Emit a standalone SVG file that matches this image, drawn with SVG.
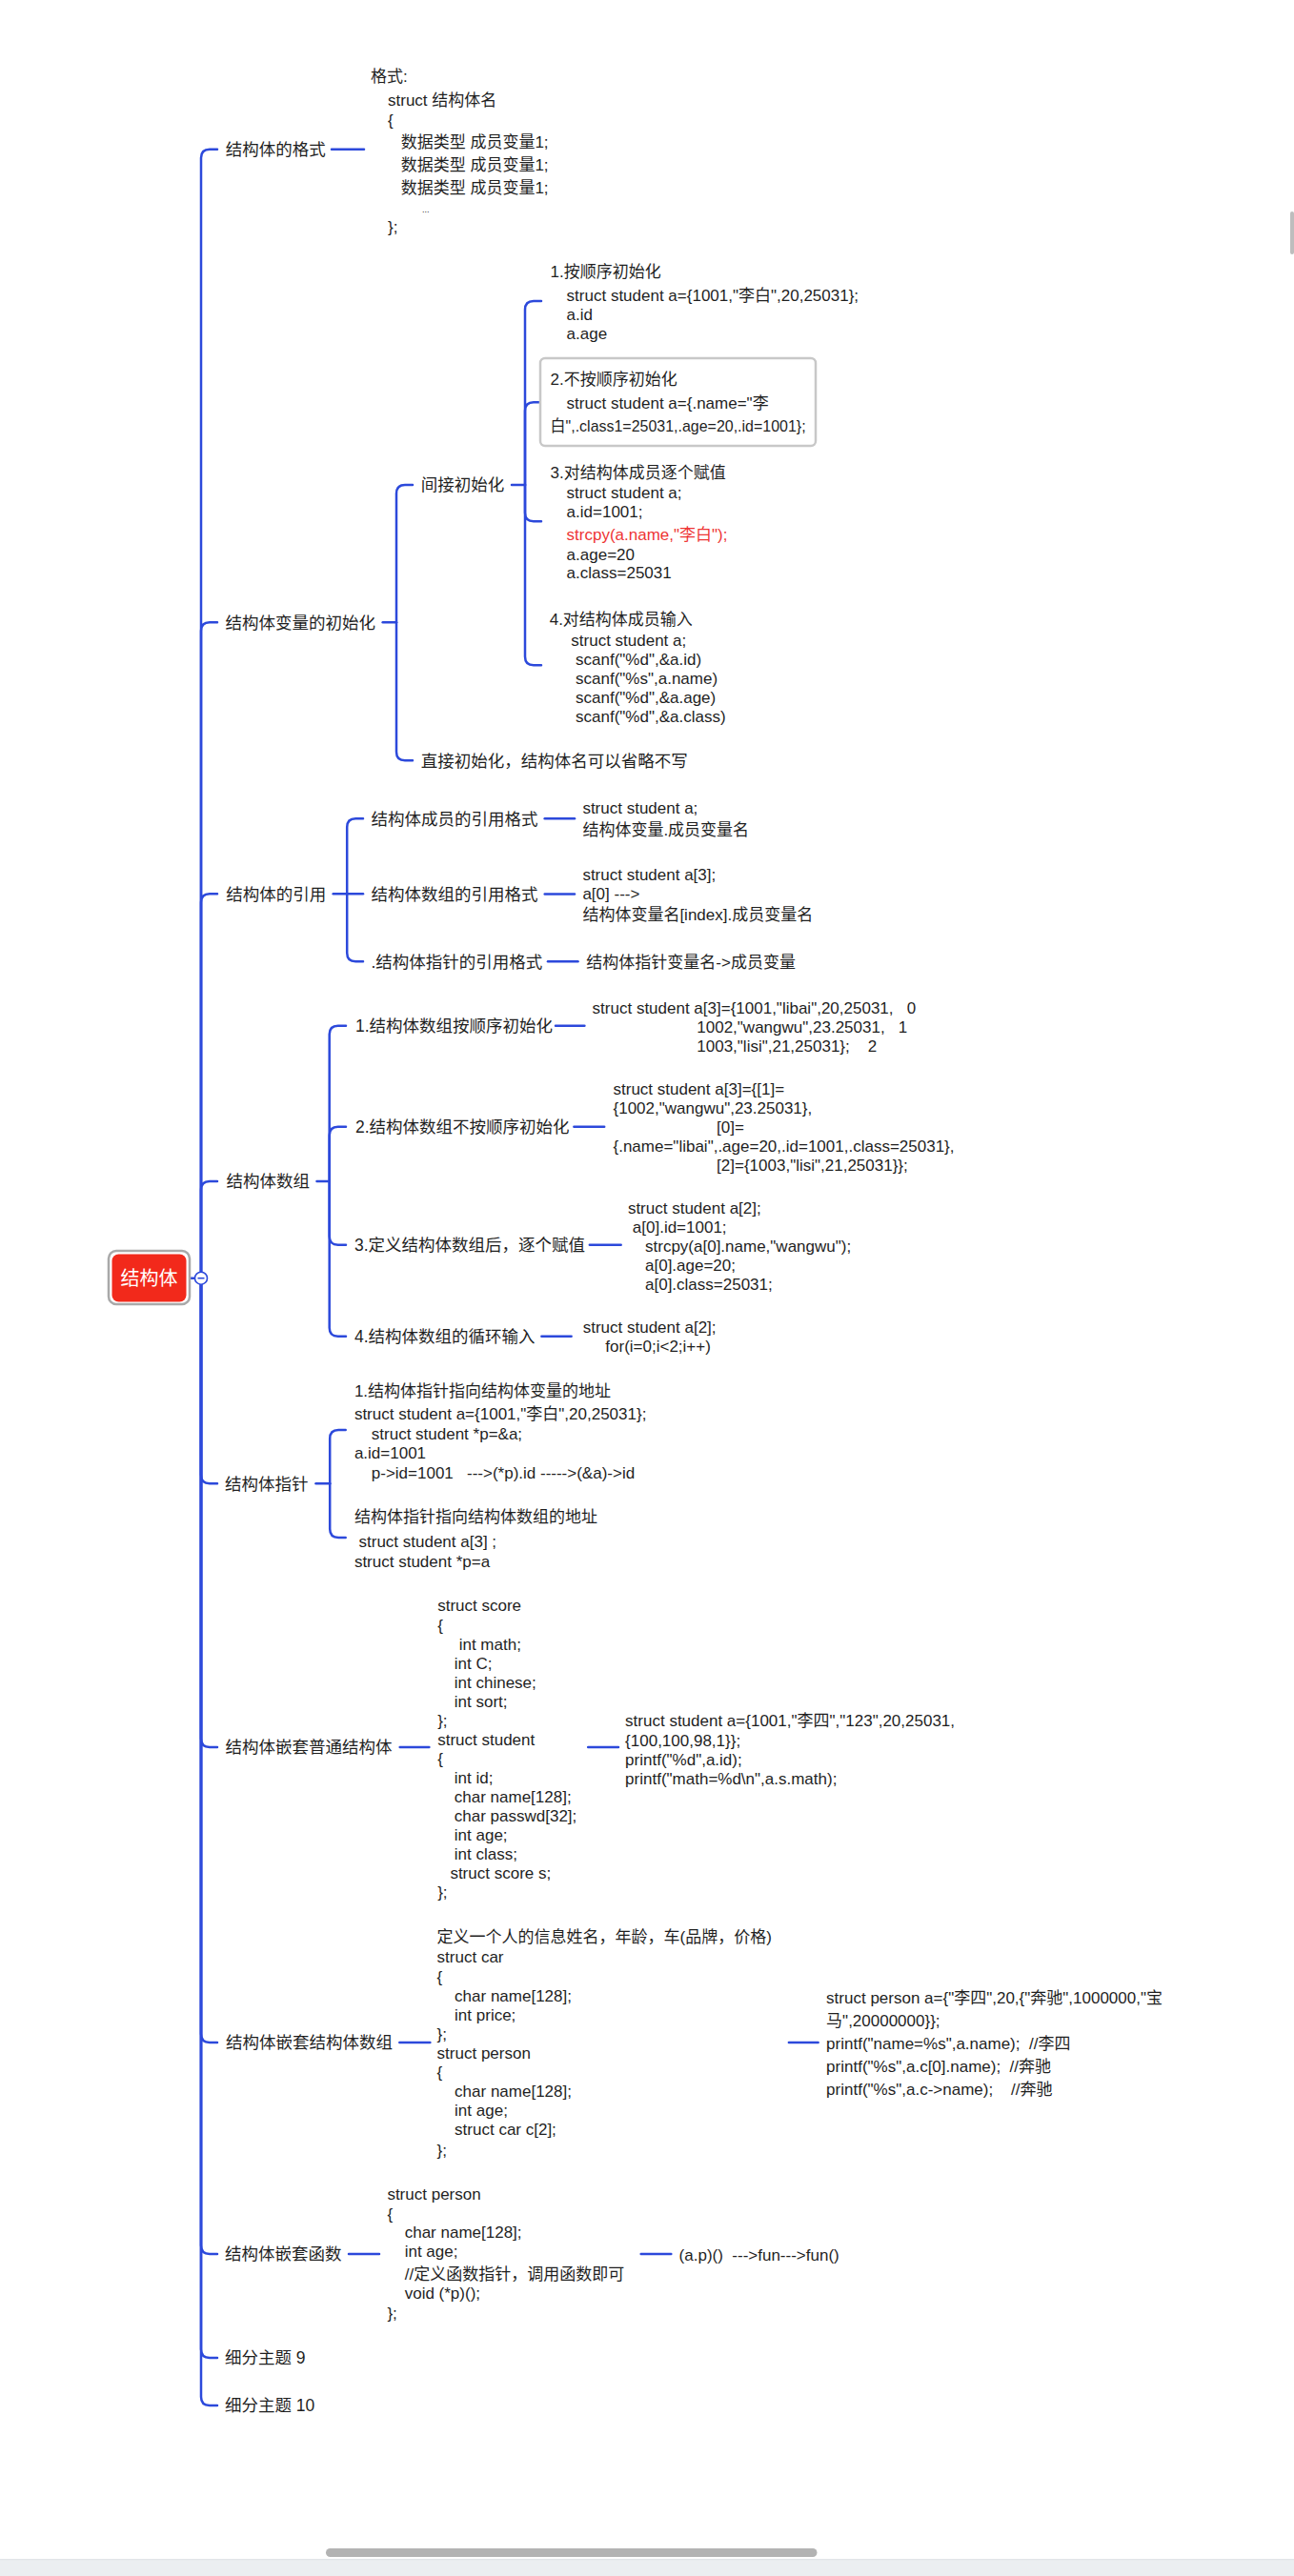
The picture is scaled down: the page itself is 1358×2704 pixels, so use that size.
<svg xmlns="http://www.w3.org/2000/svg" width="1358" height="2704" viewBox="0 0 1358 2704">
<style>
text{font-family:'Liberation Sans','Noto Sans CJK SC',sans-serif;font-size:17px;fill:#1f1f1f;white-space:pre}
.lb{font-size:17.5px}
.red{fill:#ee3535}
.ln{fill:none;stroke:#2c49db;stroke-width:2.5;stroke-linecap:round}
</style>
<rect x="0" y="0" width="1358" height="2704" fill="#ffffff"/>
<g id="connectors">
<path class="ln" d="M196,1341.7 H205"/>
<path class="ln" d="M211,1341.7 V165.7 Q211,156.7 220,156.7 H228"/>
<path class="ln" d="M211,1341.7 V662.3 Q211,653.3 220,653.3 H228"/>
<path class="ln" d="M211,1341.7 V947.3 Q211,938.3 220,938.3 H228"/>
<path class="ln" d="M211,1341.7 V1249 Q211,1240 220,1240 H228"/>
<path class="ln" d="M211,1341.7 V1548.3 Q211,1557.3 220,1557.3 H228"/>
<path class="ln" d="M211,1341.7 V1825 Q211,1834 220,1834 H228"/>
<path class="ln" d="M211,1341.7 V2135 Q211,2144 220,2144 H228"/>
<path class="ln" d="M211,1341.7 V2357 Q211,2366 220,2366 H228"/>
<path class="ln" d="M211,1341.7 V2466 Q211,2475 220,2475 H228"/>
<path class="ln" d="M211,1341.7 V2516 Q211,2525 220,2525 H228"/>
<path class="ln" d="M348,156.7 H382"/>
<path class="ln" d="M401.7,653.3 H416"/>
<path class="ln" d="M416,653.3 V518 Q416,509 425,509 H433"/>
<path class="ln" d="M416,653.3 V789.3 Q416,798.3 425,798.3 H433"/>
<path class="ln" d="M537,509 H551"/>
<path class="ln" d="M551,509 V325 Q551,316 560,316 H568"/>
<path class="ln" d="M551,509 V431.3 Q551,422.3 560,422.3 H568"/>
<path class="ln" d="M551,509 V538.3 Q551,547.3 560,547.3 H568"/>
<path class="ln" d="M551,509 V689.3 Q551,698.3 560,698.3 H568"/>
<path class="ln" d="M349.7,938.3 H381"/>
<path class="ln" d="M364.2,938.3 V868.3 Q364.2,859.3 373.2,859.3 H381"/>
<path class="ln" d="M364.2,938.3 V1000.3 Q364.2,1009.3 373.2,1009.3 H381"/>
<path class="ln" d="M571.7,859.3 H603"/>
<path class="ln" d="M571.7,938.5 H603"/>
<path class="ln" d="M575,1009.3 H606.5"/>
<path class="ln" d="M332.5,1240 H345.7"/>
<path class="ln" d="M345.7,1240 V1085.7 Q345.7,1076.7 354.7,1076.7 H363"/>
<path class="ln" d="M345.7,1240 V1191.7 Q345.7,1182.7 354.7,1182.7 H363"/>
<path class="ln" d="M345.7,1240 V1297.7 Q345.7,1306.7 354.7,1306.7 H363"/>
<path class="ln" d="M345.7,1240 V1393.7 Q345.7,1402.7 354.7,1402.7 H363"/>
<path class="ln" d="M583,1076.7 H613.4"/>
<path class="ln" d="M602.4,1182.7 H634.2"/>
<path class="ln" d="M618.8,1306.7 H651.7"/>
<path class="ln" d="M568.4,1402.7 H599.6"/>
<path class="ln" d="M331.5,1557.3 H346.2"/>
<path class="ln" d="M346.2,1557.3 V1510 Q346.2,1501 355.2,1501 H362.7"/>
<path class="ln" d="M346.2,1557.3 V1605 Q346.2,1614 355.2,1614 H362.7"/>
<path class="ln" d="M419.7,1834 H450.4"/>
<path class="ln" d="M617.2,1834 H649"/>
<path class="ln" d="M419.3,2144 H451.4"/>
<path class="ln" d="M827.9,2144 H858.6"/>
<path class="ln" d="M366,2366 H398"/>
<path class="ln" d="M672.7,2366 H704.3"/>
</g>
<g id="root">
<rect x="114" y="1313" width="85" height="56" rx="8" fill="#ffffff" stroke="#a9a9a9" stroke-width="2.5"/>
<rect x="117.5" y="1316.5" width="78" height="50" rx="7" fill="#f2291b"/>
<text x="156.5" y="1348.5" text-anchor="middle" style="font-size:20px;fill:#ffffff">结构体</text>
<circle cx="211" cy="1341.7" r="6.5" fill="#ffffff" stroke="#2c49db" stroke-width="1.6"/>
<path d="M207.5,1341.7 H214.5" stroke="#2c49db" stroke-width="1.6"/>
</g>
<g id="n-format">
<text class="lb" x="236.7" y="163">结构体的格式</text>
</g>
<g id="n-format-body">
<text x="389" y="85.5">格式:</text>
<text x="407" y="110.5">struct 结构体名</text>
<text x="407" y="132">{</text>
<text x="420.7" y="154.5">数据类型 成员变量1;</text>
<text x="420.7" y="178.5">数据类型 成员变量1;</text>
<text x="420.7" y="203">数据类型 成员变量1;</text>
<text x="443" y="222.7" style="font-size:9px">...</text>
<text x="407" y="244">};</text>
</g>
<g id="n-init">
<text class="lb" x="236.5" y="659.5">结构体变量的初始化</text>
</g>
<g id="n-init-indirect">
<text class="lb" x="441.7" y="515">间接初始化</text>
</g>
<g id="n-init-direct">
<text class="lb" x="441.7" y="804.5">直接初始化，结构体名可以省略不写</text>
</g>
<g id="n-init-1">
<text x="577.6" y="291">1.按顺序初始化</text>
<text x="594.6" y="316">struct student a={1001,"李白",20,25031};</text>
<text x="594.6" y="335.5">a.id</text>
<text x="594.6" y="356">a.age</text>
</g>
<g id="n-init-2">
<rect x="567" y="376" width="289" height="92" rx="5" fill="#ffffff" stroke="#c8c8c8" stroke-width="2.5"/>
<text x="577.6" y="404.3">2.不按顺序初始化</text>
<text x="594.6" y="429.3">struct student a={.name="李</text>
<text x="577.6" y="452.7" textLength="268" lengthAdjust="spacingAndGlyphs">白",.class1=25031,.age=20,.id=1001};</text>
</g>
<g id="n-init-3">
<text x="577.6" y="501.7">3.对结构体成员逐个赋值</text>
<text x="594.6" y="522.5">struct student a;</text>
<text x="594.6" y="542.5">a.id=1001;</text>
<text class="red" x="594.6" y="567">strcpy(a.name,"李白");</text>
<text x="594.6" y="587.5">a.age=20</text>
<text x="594.6" y="606.5">a.class=25031</text>
</g>
<g id="n-init-4">
<text x="576.7" y="656">4.对结构体成员输入</text>
<text x="599.3" y="677.7">struct student a;</text>
<text x="604" y="697.7">scanf("%d",&amp;a.id)</text>
<text x="604" y="717.7">scanf("%s",a.name)</text>
<text x="604" y="737.7">scanf("%d",&amp;a.age)</text>
<text x="604" y="757.7">scanf("%d",&amp;a.class)</text>
</g>
<g id="n-ref">
<text class="lb" x="237.2" y="944.5">结构体的引用</text>
</g>
<g id="n-ref-1">
<text class="lb" x="389.4" y="865.5">结构体成员的引用格式</text>
</g>
<g id="n-ref-1-body">
<text x="611.4" y="853.7">struct student a;</text>
<text x="611.4" y="877">结构体变量.成员变量名</text>
</g>
<g id="n-ref-2">
<text class="lb" x="389.4" y="945">结构体数组的引用格式</text>
</g>
<g id="n-ref-2-body">
<text x="611.4" y="923.7">struct student a[3];</text>
<text x="611.4" y="944.3">a[0] ---&gt;</text>
<text x="611.4" y="966">结构体变量名[index].成员变量名</text>
</g>
<g id="n-ref-3">
<text class="lb" x="389.4" y="1015.5">.结构体指针的引用格式</text>
</g>
<g id="n-ref-3-body">
<text x="615.3" y="1016">结构体指针变量名-&gt;成员变量</text>
</g>
<g id="n-arr">
<text class="lb" x="237.6" y="1246">结构体数组</text>
</g>
<g id="n-arr-1">
<text class="lb" x="373" y="1082.7">1.结构体数组按顺序初始化</text>
</g>
<g id="n-arr-1-body">
<text x="621.6" y="1064.3">struct student a[3]={1001,"libai",20,25031,&#160;&#160;&#160;0</text>
<text x="731.3" y="1084.3">1002,"wangwu",23.25031,&#160;&#160;&#160;1</text>
<text x="731.3" y="1104.3">1003,"lisi",21,25031};&#160;&#160;&#160;&#160;2</text>
</g>
<g id="n-arr-2">
<text class="lb" x="373" y="1188.7">2.结构体数组不按顺序初始化</text>
</g>
<g id="n-arr-2-body">
<text x="643.5" y="1149.3">struct student a[3]={[1]=</text>
<text x="643.5" y="1169.3">{1002,"wangwu",23.25031},</text>
<text x="752.1" y="1189.3">[0]=</text>
<text x="643.5" y="1209.3">{.name="libai",.age=20,.id=1001,.class=25031},</text>
<text x="752.1" y="1229.3">[2]={1003,"lisi",21,25031}};</text>
</g>
<g id="n-arr-3">
<text class="lb" x="372" y="1312.7">3.定义结构体数组后，逐个赋值</text>
</g>
<g id="n-arr-3-body">
<text x="658.9" y="1274.3">struct student a[2];</text>
<text x="663.8" y="1294.3">a[0].id=1001;</text>
<text x="677" y="1314.3">strcpy(a[0].name,"wangwu");</text>
<text x="677" y="1334.3">a[0].age=20;</text>
<text x="677" y="1354.3">a[0].class=25031;</text>
</g>
<g id="n-arr-4">
<text class="lb" x="372" y="1408.7">4.结构体数组的循环输入</text>
</g>
<g id="n-arr-4-body">
<text x="611.7" y="1399.3">struct student a[2];</text>
<text x="635.3" y="1419.3">for(i=0;i&lt;2;i++)</text>
</g>
<g id="n-ptr">
<text class="lb" x="236" y="1563.5">结构体指针</text>
</g>
<g id="n-ptr-1">
<text x="371.9" y="1466">1.结构体指针指向结构体变量的地址</text>
<text x="371.9" y="1490">struct student a={1001,"李白",20,25031};</text>
<text x="389.8" y="1511">struct student *p=&amp;a;</text>
<text x="371.9" y="1531">a.id=1001</text>
<text x="389.8" y="1552">p-&gt;id=1001&#160;&#160;&#160;---&gt;(*p).id -----&gt;(&amp;a)-&gt;id</text>
</g>
<g id="n-ptr-2">
<text x="371.9" y="1598.3">结构体指针指向结构体数组的地址</text>
<text x="376.5" y="1624.3">struct student a[3] ;</text>
<text x="371.9" y="1645.3">struct student *p=a</text>
</g>
<g id="n-nest">
<text class="lb" x="236.5" y="1840">结构体嵌套普通结构体</text>
</g>
<g id="n-nest-def">
<text x="459.2" y="1691">struct score</text>
<text x="459.2" y="1712">{</text>
<text x="481.7" y="1732">int math;</text>
<text x="476.8" y="1752">int C;</text>
<text x="476.8" y="1772">int chinese;</text>
<text x="476.8" y="1792">int sort;</text>
<text x="459.2" y="1812">};</text>
<text x="459.2" y="1832">struct student</text>
<text x="459.2" y="1852">{</text>
<text x="476.8" y="1872">int id;</text>
<text x="476.8" y="1892">char name[128];</text>
<text x="476.8" y="1912">char passwd[32];</text>
<text x="476.8" y="1932">int age;</text>
<text x="476.8" y="1952">int class;</text>
<text x="472.4" y="1972">struct score s;</text>
<text x="459.2" y="1992">};</text>
</g>
<g id="n-nest-use">
<text x="656.1" y="1812">struct student a={1001,"李四","123",20,25031,</text>
<text x="656.1" y="1832.5">{100,100,98,1}};</text>
<text x="656.1" y="1852.5">printf("%d",a.id);</text>
<text x="656.1" y="1872.5">printf("math=%d\n",a.s.math);</text>
</g>
<g id="n-nestarr">
<text class="lb" x="237.1" y="2150">结构体嵌套结构体数组</text>
</g>
<g id="n-nestarr-def">
<text x="458.6" y="2039.3">定义一个人的信息姓名，年龄，车(品牌，价格)</text>
<text x="458.6" y="2060.3">struct car</text>
<text x="458.6" y="2081">{</text>
<text x="477.1" y="2101">char name[128];</text>
<text x="477.1" y="2121">int price;</text>
<text x="458.6" y="2141">};</text>
<text x="458.6" y="2161">struct person</text>
<text x="458.6" y="2181">{</text>
<text x="477.1" y="2201">char name[128];</text>
<text x="477.1" y="2221">int age;</text>
<text x="477.1" y="2241">struct car c[2];</text>
<text x="458.6" y="2262.7">};</text>
</g>
<g id="n-nestarr-use">
<text x="867.1" y="2103.3">struct person a={"李四",20,{"奔驰",1000000,"宝</text>
<text x="867.1" y="2127">马",20000000}};</text>
<text x="867.1" y="2151">printf("name=%s",a.name);&#160;&#160;//李四</text>
<text x="867.1" y="2175.3">printf("%s",a.c[0].name);&#160;&#160;//奔驰</text>
<text x="867.1" y="2199.3">printf("%s",a.c-&gt;name);&#160;&#160;&#160;&#160;//奔驰</text>
</g>
<g id="n-func">
<text class="lb" x="236" y="2372">结构体嵌套函数</text>
</g>
<g id="n-func-def">
<text x="406.4" y="2309.3">struct person</text>
<text x="406.4" y="2330.3">{</text>
<text x="424.7" y="2349.3">char name[128];</text>
<text x="424.7" y="2369.3">int age;</text>
<text x="424.7" y="2392.7">//定义函数指针，调用函数即可</text>
<text x="424.7" y="2413.3">void (*p)();</text>
<text x="406.4" y="2434.3">};</text>
</g>
<g id="n-func-use">
<text x="712.6" y="2372.5">(a.p)()&#160;&#160;---&gt;fun---&gt;fun()</text>
</g>
<g id="n-sub9">
<text class="lb" x="236" y="2481">细分主题 9</text>
</g>
<g id="n-sub10">
<text class="lb" x="236" y="2531">细分主题 10</text>
</g>
<g id="scrollbars">
<rect x="1354" y="222" width="4" height="45" rx="2" fill="#bdbdbd"/>
<rect x="342" y="2675" width="515.5" height="9" rx="4.5" fill="#b3b3b3"/>
<rect x="0" y="2686.7" width="1358" height="17.3" fill="#ebeef1"/>
<path d="M0,2686.7 H1358" stroke="#dcdfe3" stroke-width="1"/>
</g>
</svg>
